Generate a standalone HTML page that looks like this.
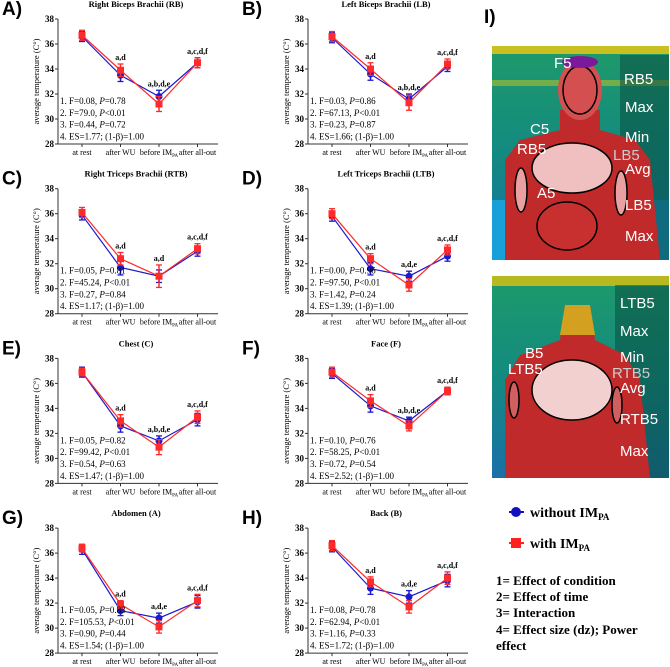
<!DOCTYPE html>
<html><head><meta charset="utf-8"><style>
body{margin:0;background:#fff;width:670px;height:667px;overflow:hidden;position:relative;font-family:"Liberation Serif",serif}
svg{position:absolute;left:0;top:0}
</style></head><body>
<svg id="chart" width="670" height="667" viewBox="0 0 670 667">
<defs>
<linearGradient id="bg1" x1="0" y1="0" x2="0" y2="1"><stop offset="0" stop-color="#1e9a6a"/><stop offset="0.5" stop-color="#138a80"/><stop offset="1" stop-color="#1a6fa8"/></linearGradient>
</defs>
<g>
<rect x="492" y="46" width="177" height="214" fill="url(#bg1)"/>
<rect x="492" y="46" width="177" height="8" fill="#c8c020"/>
<rect x="492" y="80" width="177" height="6" fill="#b0c030" opacity="0.6"/>
<rect x="492" y="200" width="30" height="60" fill="#18a0d8"/>
<rect x="640" y="200" width="29" height="60" fill="#1890c8"/>
<rect x="620" y="55" width="49" height="205" fill="#0a4d40" opacity="0.55"/>
<path d="M560 110 L560 130 L520 140 L505 160 L505 260 L660 260 L650 160 L635 140 L600 130 L600 110 Z" fill="#c02a2a"/>
<ellipse cx="580" cy="90" rx="22" ry="30" fill="#d45050"/>
<ellipse cx="580" cy="90" rx="17" ry="24" fill="none" stroke="#000" stroke-width="1.5"/>
<ellipse cx="580" cy="62" rx="18" ry="6" fill="#7a1a9a"/>
<ellipse cx="572" cy="168" rx="40" ry="25" fill="#f0c0c0" stroke="#000" stroke-width="1.5"/>
<ellipse cx="567" cy="226" rx="30" ry="24" fill="#c83030" stroke="#000" stroke-width="1.5"/>
<ellipse cx="521" cy="190" rx="6" ry="22" fill="#e8a0a0" stroke="#000" stroke-width="1.5"/>
<ellipse cx="621" cy="193" rx="6" ry="22" fill="#e8a0a0" stroke="#000" stroke-width="1.5"/>
<g font-family="Liberation Sans, sans-serif" fill="#fff" font-size="15">
<text x="554" y="68">F5</text><text x="624" y="84">RB5</text><text x="625" y="112">Max</text><text x="625" y="142">Min</text><text x="613" y="160" fill="#ccc">LB5</text><text x="625" y="174">Avg</text><text x="625" y="210">LB5</text><text x="625" y="241">Max</text><text x="530" y="134">C5</text><text x="517" y="154">RB5</text><text x="537" y="198">A5</text></g>
</g>
<g>
<rect x="492" y="276" width="177" height="202" fill="url(#bg1)"/>
<rect x="492" y="276" width="177" height="10" fill="#b8b820"/>
<rect x="615" y="285" width="54" height="193" fill="#0a4d40" opacity="0.55"/>
<path d="M565 305 L560 340 L520 355 L505 380 L505 478 L650 478 L640 380 L625 355 L595 340 L590 305 Z" fill="#c02a2a"/>
<path d="M565 305 L560 335 L595 335 L590 305 Z" fill="#d4a020"/>
<ellipse cx="572" cy="390" rx="40" ry="30" fill="#f2d0d0" stroke="#000" stroke-width="1.5"/>
<ellipse cx="514" cy="400" rx="5" ry="18" fill="#d06060" stroke="#000" stroke-width="1.5"/>
<ellipse cx="617" cy="405" rx="5" ry="18" fill="#d06060" stroke="#000" stroke-width="1.5"/>
<g font-family="Liberation Sans, sans-serif" fill="#fff" font-size="15">
<text x="620" y="308">LTB5</text><text x="620" y="336">Max</text><text x="620" y="362">Min</text><text x="612" y="378" fill="#ccc">RTB5</text><text x="620" y="393">Avg</text><text x="620" y="424">RTB5</text><text x="620" y="456">Max</text><text x="525" y="358">B5</text><text x="508" y="374">LTB5</text></g>
</g>
<text x="484" y="23" font-family="Liberation Sans, sans-serif" font-weight="bold" font-size="19">I)</text>
<g font-weight="bold">
<g><line x1="509" y1="512" x2="524" y2="512" stroke="#1010c0" stroke-width="2"/><circle cx="516" cy="512" r="5" fill="#1010c0"/><text x="530" y="517" font-size="14">without IM<tspan font-size="9" dy="3">PA</tspan></text></g>
<g><line x1="509" y1="543" x2="524" y2="543" stroke="#ff2020" stroke-width="2"/><rect x="511" y="538" width="10" height="10" fill="#ff2020"/><text x="530" y="548" font-size="14">with IM<tspan font-size="9" dy="3">PA</tspan></text></g>
<g font-size="13"><text x="496" y="585">1= Effect of condition</text><text x="496" y="601">2= Effect of time</text><text x="496" y="617">3= Interaction</text><text x="496" y="634">4= Effect size (dz); Power</text><text x="496" y="650">effect</text></g>
</g>
</svg>
<script>
const categories=["at rest","after WU","before IM","after all-out"];
const yTicks=[28,30,32,34,36,38];
const panelLetters=["A)","B)","C)","D)","E)","F)","G)","H)"];
const titles=["Right Biceps Brachii (RB)","Left Biceps Brachii (LB)","Right Triceps Brachii (RTB)","Left Triceps Brachii (LTB)","Chest (C)","Face (F)","Abdomen (A)","Back (B)"];
const blueVals=[[36.6,33.5,31.8,34.5],[36.5,33.6,31.6,34.2],[35.9,31.7,31.0,33.0],[35.8,31.6,31.0,32.6],[36.9,32.6,31.4,33.1],[36.8,34.2,33.0,35.4],[36.3,31.4,30.8,32.1],[36.5,33.2,32.5,33.8]];
const redVals=[[36.7,33.9,31.2,34.5],[36.6,34.0,31.3,34.4],[36.1,32.4,31.0,33.2],[36.0,32.4,30.3,33.1],[36.9,33.0,30.9,33.3],[36.9,34.6,32.6,35.4],[36.4,31.9,30.1,32.2],[36.6,33.7,31.7,34.0]];
const blueErr=[[0.4,0.5,0.5,0.4],[0.4,0.5,0.4,0.4],[0.4,0.6,0.5,0.4],[0.4,0.5,0.4,0.4],[0.4,0.5,0.4,0.5],[0.4,0.5,0.3,0.3],[0.4,0.4,0.4,0.5],[0.4,0.5,0.5,0.5]];
const redErr=[[0.4,0.5,0.6,0.4],[0.4,0.5,0.6,0.4],[0.4,0.5,0.9,0.4],[0.4,0.4,0.5,0.4],[0.3,0.5,0.6,0.5],[0.4,0.5,0.4,0.3],[0.3,0.3,0.5,0.5],[0.4,0.4,0.5,0.5]];
const annots=[["a,d","a,b,d,e","a,c,d,f"],["a,d","a,b,d,e","a,c,d,f"],["a,d","a,d","a,c,d,f"],["a,d","a,d,e","a,c,d,f"],["a,d","a,b,d,e","a,c,d,f"],["a,d","a,b,d,e","a,c,d,f"],["a,d","a,d,e","a,c,d,f"],["a,d","a,d,e","a,c,d,f"]];
const stats=[["0.08","0.78","79.0","0.44","0.72","1.77"],["0.03","0.86","67.13","0.23","0.87","1.66"],["0.05","0.81","45.24","0.27","0.84","1.17"],["0.00","0.96","97.50","1.42","0.24","1.39"],["0.05","0.82","99.42","0.54","0.63","1.47"],["0.10","0.76","58.25","0.72","0.54","2.52"],["0.05","0.83","105.53","0.90","0.44","1.54"],["0.08","0.78","62.94","1.16","0.33","1.72"]];
const NS="http://www.w3.org/2000/svg";
const svg=document.getElementById("chart");
function mk(tag,attrs,parent,text){const e=document.createElementNS(NS,tag);for(const k in attrs)e.setAttribute(k,attrs[k]);if(text!=null)e.textContent=text;parent.appendChild(e);return e;}
for(let p=0;p<8;p++){
  const col=p%2,row=Math.floor(p/2);
  const ax=col?308:58, top=19+row*169.7, bot=top+125;
  const xs=i=>ax+24+i*38.5;
  const ys=v=>bot-(v-28)/10*125;
  const g=mk("g",{},svg);
  
  
  const lt=mk("text",{x:col?242:2,y:top-4,"font-family":"Liberation Sans, sans-serif","font-weight":"bold","font-size":"19"},g,panelLetters[p]);
  
  
  const tt=mk("text",{x:ax+78,y:top-12,"text-anchor":"middle","font-weight":"bold","font-size":"8.5"},g,titles[p]);
  
  
  mk("line",{x1:ax,y1:top,x2:ax,y2:bot,stroke:"#333","stroke-width":1},g);
  mk("line",{x1:ax,y1:bot,x2:ax+160,y2:bot,stroke:"#333","stroke-width":1},g);
  yTicks.forEach(t=>{mk("line",{x1:ax-3,y1:ys(t),x2:ax,y2:ys(t),stroke:"#333"},g);
    const tl=mk("text",{x:ax-4,y:ys(t)+3,"text-anchor":"end","font-size":"9","font-weight":"bold"},g,t);
    
    });
  const yt=mk("text",{transform:`translate(${ax-19},${(top+bot)/2}) rotate(-90)`,"text-anchor":"middle","font-size":"8.5"},g,"average temperature (C°)");
  
  
  categories.forEach((c,i)=>{mk("line",{x1:xs(i),y1:bot,x2:xs(i),y2:bot+3,stroke:"#333"},g);
    const xl=mk("text",{x:xs(i),y:bot+11,"text-anchor":"middle","font-size":"8"},g,c);
    if(i==2){mk("tspan",{"font-size":"5",dy:"2"},xl,"PA");}
    
    });
  [[blueVals,blueErr,"#1a1ad0","without"],[redVals,redErr,"#ff2a2a","with"]].forEach(([vals,errs,colr,nm])=>{
    const v=vals[p],e=errs[p];
    const ln=mk("polyline",{points:v.map((d,i)=>xs(i)+","+ys(d)).join(" "),fill:"none",stroke:colr,"stroke-width":1.2},g);
    
    
    v.forEach((d,i)=>{
      mk("line",{x1:xs(i),y1:ys(d+e[i]),x2:xs(i),y2:ys(d-e[i]),stroke:colr,"stroke-width":1.5},g);
      mk("line",{x1:xs(i)-3,y1:ys(d+e[i]),x2:xs(i)+3,y2:ys(d+e[i]),stroke:colr,"stroke-width":1.3},g);
      mk("line",{x1:xs(i)-3,y1:ys(d-e[i]),x2:xs(i)+3,y2:ys(d-e[i]),stroke:colr,"stroke-width":1.3},g);
      const m=nm=="with"?mk("rect",{x:xs(i)-3.5,y:ys(d)-3.5,width:7,height:7,fill:colr},g):mk("circle",{cx:xs(i),cy:ys(d),r:3.5,fill:colr},g);
      
      
    });
  });
  annots[p].forEach((a,k)=>{const i=k+1;
    const yy=Math.max(blueVals[p][i]+blueErr[p][i],redVals[p][i]+redErr[p][i]);
    const at=mk("text",{x:xs(i),y:ys(yy)-4,"text-anchor":"middle","font-size":"8","font-weight":"bold"},g,a);
    
    });
  const s=stats[p];
  const lines=[`1. F=${s[0]}, <tspan font-style="italic">P</tspan>=${s[1]}`,`2. F=${s[2]}, <tspan font-style="italic">P</tspan>&lt;0.01`,`3. F=${s[3]}, <tspan font-style="italic">P</tspan>=${s[4]}`,`4. ES=${s[5]}; (1-β)=1.00`];
  lines.forEach((l,k)=>{const st=mk("text",{x:ax+2,y:bot-40+k*11.8,"font-size":"9"},g);
    st.innerHTML=l;
    
    });
}
</script>
</body></html>
